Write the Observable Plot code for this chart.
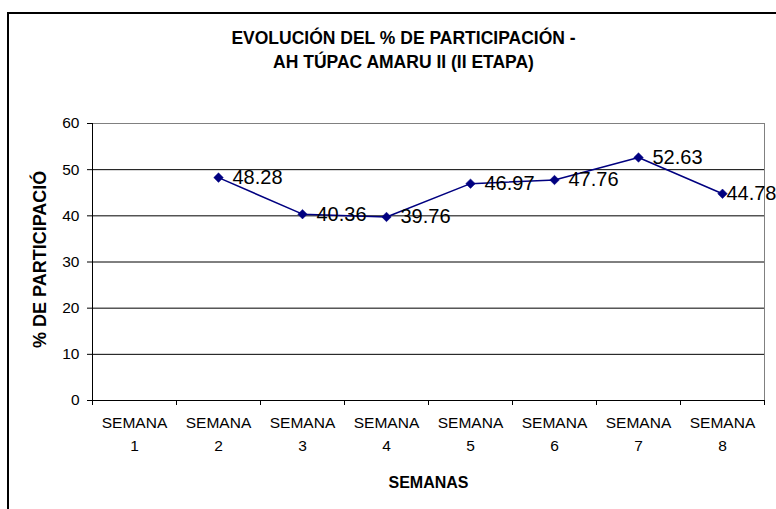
<!DOCTYPE html>
<html>
<head>
<meta charset="utf-8">
<script src="https://cdn.jsdelivr.net/npm/d3@7"></script>
<script src="https://cdn.jsdelivr.net/npm/@observablehq/plot@0.6"></script>
<style>
  html, body { margin: 0; padding: 0; background: #fff; }
  #wrap { position: relative; width: 776px; height: 509px; overflow: hidden; background: #fff; }
  #border { position: absolute; left: 7px; top: 12px; width: 900px; height: 700px;
            border-left: 2px solid #000; border-top: 2px solid #000; pointer-events: none; z-index: 2; }
  #chart { position: absolute; left: 0; top: 0; }
</style>
</head>
<body>
<div id="wrap"><div id="chart"></div><div id="border"></div></div>
<script>
const titleText = "EVOLUCIÓN DEL % DE PARTICIPACIÓN -\nAH TÚPAC AMARU II (II ETAPA)";
const xTitle = "SEMANAS";
const yTitle = "% DE PARTICIPACIÓN";
const weeks = [1, 2, 3, 4, 5, 6, 7, 8];
const weekLabels = ["SEMANA\n1", "SEMANA\n2", "SEMANA\n3", "SEMANA\n4", "SEMANA\n5", "SEMANA\n6", "SEMANA\n7", "SEMANA\n8"];
const participation = [null, 48.28, 40.36, 39.76, 46.97, 47.76, 52.63, 44.78];
const yTicks = [0, 10, 20, 30, 40, 50, 60];
const weekBounds = [0.5, 1.5, 2.5, 3.5, 4.5, 5.5, 6.5, 7.5, 8.5];

const data = weeks.map((w, i) => ({week: w, value: participation[i]})).filter(d => d.value != null);
const font = "'Liberation Sans', Arial, sans-serif";
const navy = "#000080";

const chart = Plot.plot({
  width: 776,
  height: 509,
  marginLeft: 92,
  marginRight: 12,
  marginTop: 123,
  marginBottom: 109,
  style: {fontFamily: font, color: "#000", background: "transparent", overflow: "visible"},
  x: {domain: [0.5, 8.5], axis: null},
  y: {domain: [0, 60], axis: null},
  marks: [
    Plot.frame({stroke: "#808080"}),
    Plot.gridY(yTicks.slice(1, -1), {stroke: "#000", strokeOpacity: 1}),
    Plot.ruleX([0.5], {stroke: "#000"}),
    Plot.ruleY([0], {stroke: "#000"}),
    Plot.axisY(yTicks, {anchor: "left", tickSize: 5, tickPadding: 8, fontSize: 15.5, label: null, stroke: "#000"}),
    Plot.axisX(weekBounds, {anchor: "bottom", tickSize: 5, tickFormat: () => "", label: null, stroke: "#000"}),
    Plot.axisX(weeks, {anchor: "bottom", tickSize: 0, tickPadding: 11, fontSize: 15.5, lineHeight: 1.5,
                       tickFormat: (d) => weekLabels[d - 1], label: null}),
    Plot.line(data, {x: "week", y: "value", stroke: navy, strokeWidth: 1.5}),
    Plot.dot(data, {x: "week", y: "value", symbol: "diamond2", r: 4.3, fill: navy, stroke: navy, strokeWidth: 0.5}),
    Plot.text(data.slice(0, -1), {x: "week", y: "value", text: (d) => d.value.toFixed(2),
                                  textAnchor: "start", dx: 14, fontSize: 20, fill: "#000"}),
    Plot.text(data.slice(-1), {x: "week", y: "value", text: (d) => d.value.toFixed(2),
                               textAnchor: "end", dx: 54, fontSize: 20, fill: "#000"}),
    Plot.text([titleText], {frameAnchor: "top", lineAnchor: "top", dx: -25, dy: -96, fontSize: 17.5,
                            fontWeight: "bold", lineHeight: 1.35, fill: "#000"}),
    Plot.text([xTitle], {frameAnchor: "bottom", lineAnchor: "middle", dy: 82, fontSize: 16,
                         fontWeight: "bold", fill: "#000"}),
    Plot.text([yTitle], {frameAnchor: "left", rotate: -90, textAnchor: "start", lineAnchor: "middle",
                         dx: -52, dy: 86, fontSize: 18, fontWeight: "bold", fill: "#000"})
  ]
});

document.getElementById("chart").appendChild(chart);

// clip the vertical axis title like the reference
const svg = d3.select(chart);
svg.append("defs").append("clipPath").attr("id", "ylabclip")
   .append("rect").attr("x", 0).attr("y", 171).attr("width", 90).attr("height", 400);
svg.selectAll("text").filter(function () { return this.textContent === yTitle; }).each(function () {
  const g = this.parentNode;
  const wrapper = svg.append("g").attr("clip-path", "url(#ylabclip)");
  wrapper.node().appendChild(g);
});
</script>
</body>
</html>
